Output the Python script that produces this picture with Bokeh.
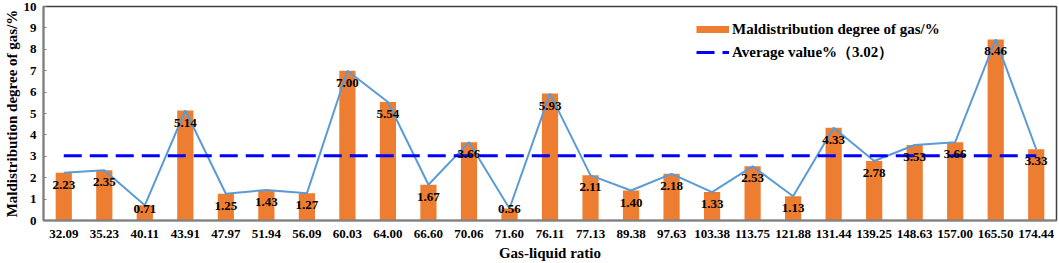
from bokeh.plotting import figure
from bokeh.models import ColumnDataSource, Range1d, FactorRange, FixedTicker, Legend, LegendItem
from bokeh.embed import file_html
from bokeh.resources import INLINE
from bokeh.core.properties import value

ratios = ["32.09", "35.23", "40.11", "43.91", "47.97", "51.94", "56.09", "60.03", "64.00",
          "66.60", "70.06", "71.60", "76.11", "77.13", "89.38", "97.63", "103.38", "113.75",
          "121.88", "131.44", "139.25", "148.63", "157.00", "165.50", "174.44"]
maldist = [2.23, 2.35, 0.71, 5.14, 1.25, 1.43, 1.27, 7.00, 5.54, 1.67, 3.66, 0.56, 5.93,
           2.11, 1.40, 2.18, 1.33, 2.53, 1.13, 4.33, 2.78, 3.53, 3.66, 8.46, 3.33]
average = 3.02
labels = ["%.2f" % v for v in maldist]
# labels sit just inside the bar end, but never below a minimum height
label_y = [max(v, 1.12) for v in maldist]

FONT = "Liberation Serif"

p = figure(width=1059, height=263, output_backend="svg", toolbar_location=None,
           x_range=FactorRange(*ratios, range_padding=0), y_range=Range1d(0, 10),
           min_border_left=10, min_border_right=3, min_border_top=6, min_border_bottom=10)
p.background_fill_color = "white"
p.border_fill_color = "white"
p.outline_line_color = "#404040"
p.outline_line_width = 1.5
p.xgrid.grid_line_color = None
p.ygrid.grid_line_color = None

src = ColumnDataSource(dict(x=ratios, y=maldist, lab=labels, ly=label_y))
p.vbar(x="x", top="y", width=0.4, source=src, fill_color="#ED7D31", line_color=None)
p.line(x="x", y="y", source=src, line_color="#5B9BD5", line_width=2)
avg_src = ColumnDataSource(dict(x=[ratios[0], ratios[-1]], y=[average, average]))
avg = p.line(x="x", y="y", source=avg_src, line_color="#0000FF", line_width=3, line_dash="18 8")
p.text(x="x", y="ly", text="lab", source=src, text_font=value(FONT), text_font_style="bold",
       text_font_size="13px", text_align="center", text_baseline="middle", y_offset=12,
       text_color="black")
# legend proxy for the bars (thin orange swatch), kept below the visible range
proxy_src = ColumnDataSource(dict(x=[ratios[0], ratios[1]], y=[-1, -1]))
bar_proxy = p.line(x="x", y="y", source=proxy_src, line_color="#ED7D31", line_width=7)

p.yaxis.ticker = FixedTicker(ticks=list(range(0, 11)))
for ax in (p.xaxis[0], p.yaxis[0]):
    ax.major_label_text_font = FONT
    ax.major_label_text_font_style = "bold"
    ax.major_label_text_font_size = "13px"
    ax.major_label_text_color = "black"
    ax.axis_label_text_font = FONT
    ax.axis_label_text_font_style = "bold"
    ax.axis_label_text_font_size = "15px"
    ax.axis_label_text_color = "black"
    ax.minor_tick_line_color = None
    ax.axis_line_color = "#808080"
    ax.axis_line_width = 2
p.yaxis.major_tick_in = 3
p.yaxis.major_tick_out = 0
p.yaxis.major_tick_line_color = "#808080"
p.xaxis.major_tick_line_color = None
p.xaxis.major_tick_out = 0
p.xaxis.major_tick_in = 0
p.xaxis.major_label_standoff = 9
p.yaxis.major_label_standoff = 7
p.xaxis.axis_label = "Gas-liquid ratio"
p.yaxis.axis_label = "Maldistribution degree of gas/%"
p.xaxis.axis_label_standoff = 4
p.yaxis.axis_label_standoff = 1

legend = Legend(items=[LegendItem(label="Maldistribution degree of gas/%", renderers=[bar_proxy]),
                       LegendItem(label="Average value%（3.02）", renderers=[avg])],
                location=(653, 158), orientation="vertical")
legend.border_line_color = None
legend.background_fill_alpha = 0
legend.padding = 0
legend.margin = 0
legend.spacing = 3
legend.glyph_width = 33
legend.glyph_height = 20
legend.label_height = 20
legend.label_standoff = 3
legend.label_text_font = FONT
legend.label_text_font_style = "bold"
legend.label_text_font_size = "15px"
legend.label_text_color = "black"
p.add_layout(legend)

open("out.html", "w").write(file_html(p, INLINE))
